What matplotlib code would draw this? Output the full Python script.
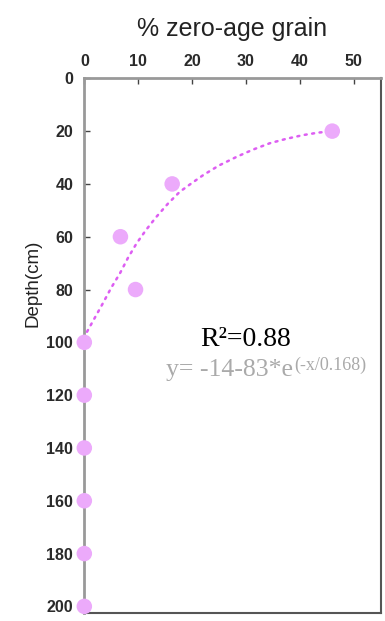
import matplotlib
matplotlib.use('Agg')
import matplotlib.pyplot as plt
import numpy as np

# measured points (% zero-age grain vs depth)
grain_pct = [46, 16.3, 6.7, 9.5, 0, 0, 0, 0, 0, 0]
depth_cm = [20, 40, 60, 80, 100, 120, 140, 160, 180, 200]

# fitted curve
fit_x = [0.5, 2.0, 3.5, 5.0, 6.6, 8.1, 9.7, 11.5, 13.4, 15.5, 17.7, 20.0, 22.1, 25.0, 28.3, 31.3, 34.4, 37.5, 40.6, 43.3, 46.0]
fit_y = [96.0, 90.5, 85.0, 79.3, 73.9, 68.0, 62.5, 57.3, 52.4, 47.5, 43.0, 39.6, 36.6, 33.0, 29.7, 27.0, 24.6, 22.9, 21.5, 20.6, 20.0]

x_ticks = [0, 10, 20, 30, 40, 50]
y_ticks = [0, 20, 40, 60, 80, 100, 120, 140, 160, 180, 200]

r2_text = 'R\u00b2=0.88'
eq_main = 'y= -14-83*e'
eq_sup = '(-x/0.168)'

plt.rcParams['font.family'] = ['Liberation Sans', 'DejaVu Sans']

fig = plt.figure(figsize=(3.85, 6.21), dpi=100)
ax = fig.add_axes([0.219, 0.0129, 0.770, 0.861])

ax.plot(fit_x, fit_y, color='#dd5ef2', linewidth=1.8, linestyle=(0, (0.8, 2.2)),
        dash_capstyle='round', zorder=2)
ax.scatter(grain_pct, depth_cm, s=125, color='#ecaafb', edgecolors='none', zorder=5, clip_on=False)

ax.set_xlim(0, 55)
ax.set_ylim(202.5, 0)
ax.set_xticks(x_ticks)
ax.set_yticks(y_ticks)

ax.xaxis.tick_top()
ax.xaxis.set_label_position('top')
ax.tick_params(axis='both', direction='in', length=4, width=1, color='#444444',
               labelsize=11.5, labelcolor='#2a2a2a')
ax.tick_params(axis='x', pad=7)
ax.tick_params(axis='y', pad=8)
for lbl in ax.get_xticklabels() + ax.get_yticklabels():
    lbl.set_fontweight('bold')

ax.set_xlabel('% zero-age grain', fontsize=18, color='#222222', labelpad=13)
ax.set_ylabel('Depth(cm)', fontsize=13.5, color='#222222')
ax.yaxis.set_label_coords(-0.144, 0.616)

for side in ('left', 'top'):
    ax.spines[side].set_color('#999999')
    ax.spines[side].set_linewidth(2)
for side in ('right', 'bottom'):
    ax.spines[side].set_color('#555555')
    ax.spines[side].set_linewidth(1.5)

ax.text(0.545, 0.5, r2_text, transform=ax.transAxes, ha='center', va='baseline',
        fontsize=20, family='Liberation Serif', color='black')
t_eq = ax.text(0.277, 0.444, eq_main, transform=ax.transAxes, ha='left', va='baseline',
               fontsize=18.5, family='Liberation Serif', color='#aaaaaa')
ax.annotate(eq_sup, xy=(1, 0), xycoords=t_eq, xytext=(0.5, 8), textcoords='offset points',
            ha='left', va='baseline', fontsize=13, family='Liberation Serif', color='#aaaaaa')

fig.savefig('out.png', dpi=100)
